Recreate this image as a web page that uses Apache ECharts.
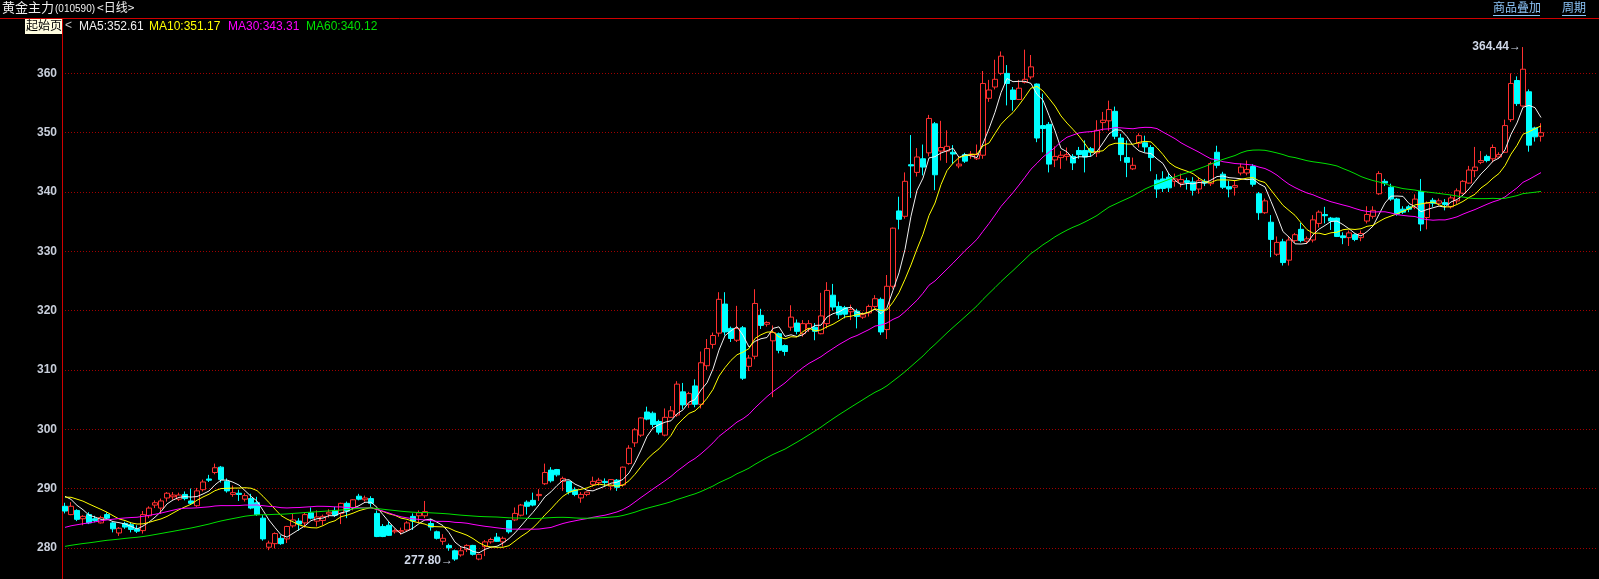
<!DOCTYPE html>
<html><head><meta charset="utf-8">
<script src="https://cdn.jsdelivr.net/npm/echarts@6/dist/echarts.min.js"></script>
<style>html,body{margin:0;padding:0;background:#000;overflow:hidden}#c{width:1599px;height:579px}</style>
</head><body><div id="c"></div>
<script>
// ---- data (daily candles, oldest first) ----
const opens = [287.0,285.6,286.3,284.9,285.6,284.9,284.2,285.6,284.2,282.5,284.1,283.9,283.2,282.9,285.4,287.2,286.7,288.4,288.6,288.2,289.0,287.9,287.1,289.8,291.6,292.7,293.6,291.2,289.0,289.2,288.2,288.3,287.6,285.0,280.1,280.7,281.6,281.5,283.7,284.5,284.2,285.9,284.5,284.6,285.7,286.3,285.8,287.5,286.8,288.7,288.1,288.3,285.8,283.6,283.8,282.7,282.7,283.0,285.3,285.4,285.4,284.1,282.7,281.1,280.4,279.5,278.8,279.7,280.4,278.1,280.2,281.0,281.8,281.0,284.6,284.7,285.5,287.7,288.0,288.8,290.8,293.1,293.2,291.2,291.2,289.8,288.4,289.0,290.7,291.0,291.2,290.4,291.4,290.6,294.2,297.7,299.0,302.9,302.7,301.3,299.0,302.0,302.4,306.3,304.2,307.3,304.2,310.7,314.3,316.2,321.1,317.0,315.0,317.1,310.6,312.3,319.2,317.7,314.9,316.1,314.1,317.2,317.9,316.1,317.0,317.2,316.1,317.8,322.6,320.7,320.5,319.8,319.9,318.9,319.6,320.7,321.9,316.8,324.1,336.8,335.9,344.6,343.3,345.6,346.6,351.5,346.9,346.9,346.7,344.4,346.3,346.2,345.6,346.2,355.8,357.7,360.0,360.0,357.2,355.6,358.5,359.4,358.2,351.2,351.4,345.4,345.8,346.0,346.0,347.0,347.0,347.3,346.6,351.7,352.0,353.6,349.1,345.8,343.9,348.2,348.3,347.5,342.0,342.2,342.5,341.8,341.5,341.9,341.7,340.5,341.8,341.4,346.7,343.0,340.9,340.8,343.2,343.2,344.3,339.7,336.5,334.9,329.5,331.6,328.5,331.8,333.7,331.7,331.9,334.7,336.2,335.6,335.6,332.6,332.3,332.8,332.3,335.1,335.9,339.7,341.8,340.8,338.8,337.1,337.5,337.4,340.1,335.7,338.6,338.1,338.2,337.5,338.5,339.8,341.5,343.6,345.0,346.0,345.6,345.9,346.7,352.2,358.8,354.5,356.9,350.8,349.4];
const closes = [286.2,287.0,284.8,285.3,284.2,284.6,285.1,285.0,283.2,283.3,283.5,283.1,282.8,285.6,286.7,287.6,287.9,289.2,288.9,288.9,288.3,287.5,289.6,291.1,291.4,293.5,291.5,289.6,289.3,289.0,288.8,286.7,285.6,281.5,280.8,282.4,280.7,283.6,284.7,284.0,285.6,285.0,285.2,285.3,286.0,285.5,287.5,286.2,288.1,288.2,288.4,287.5,281.9,281.9,282.1,282.9,282.9,284.2,284.5,285.9,286.1,283.5,281.6,281.6,280.0,278.1,279.5,280.4,278.9,278.9,281.0,281.4,281.1,281.6,282.7,285.8,287.2,287.0,287.2,289.0,292.7,291.3,292.3,291.7,289.4,289.0,289.0,289.4,291.2,291.4,291.0,291.5,290.2,293.6,296.8,299.9,301.9,301.7,300.8,299.5,302.0,303.1,307.6,304.1,306.0,304.2,311.2,313.6,315.8,321.9,316.4,315.3,317.0,308.6,312.0,321.2,317.5,318.0,316.3,313.3,313.1,318.9,316.5,317.8,317.8,316.5,319.1,323.4,320.6,319.3,319.4,320.2,319.0,319.3,320.7,322.0,316.4,324.1,333.9,335.4,341.8,344.4,345.9,344.2,352.4,342.9,347.5,347.7,346.4,344.7,345.2,346.4,346.3,358.3,357.2,359.0,362.9,358.3,355.6,357.5,359.0,361.1,349.1,350.7,344.7,346.0,346.2,346.3,344.9,346.3,345.9,346.7,350.4,352.1,353.9,349.4,346.3,345.0,344.5,349.5,347.6,345.8,340.5,340.6,340.7,342.2,342.1,341.6,340.3,341.9,341.5,344.8,344.5,340.8,340.5,341.1,344.2,343.8,341.3,336.5,338.5,332.0,331.5,328.1,331.9,332.8,331.8,332.1,335.3,336.6,336.0,335.1,332.5,332.3,333.1,332.0,333.0,336.2,336.9,343.1,341.5,338.8,336.3,336.6,337.1,338.8,334.6,338.1,338.1,338.5,337.9,339.0,340.2,341.8,343.7,344.2,345.3,345.3,347.5,346.3,351.2,358.3,354.9,360.7,347.9,349.3,350.0];
const lows = [285.8,285.5,284.5,283.8,284.0,284.3,284.1,284.8,282.6,282.0,283.2,282.6,282.5,282.4,285.0,286.7,285.7,287.8,288.1,287.9,288.0,287.3,286.9,289.5,291.1,292.4,291.0,289.3,288.6,287.9,287.8,286.5,285.4,281.2,279.6,279.9,280.5,280.8,283.4,282.9,283.4,284.8,283.6,283.8,285.1,285.2,284.0,285.0,286.3,288.0,287.8,286.9,281.8,281.8,282.0,282.4,282.2,282.8,283.0,284.2,285.0,282.9,281.4,280.5,279.5,277.8,278.5,279.3,278.7,277.9,278.6,280.7,281.0,280.2,282.4,284.5,285.3,285.6,287.0,287.9,290.6,291.0,292.0,289.6,289.0,288.7,287.6,288.7,290.3,290.5,290.4,289.7,289.6,290.3,294.0,297.0,298.7,301.5,300.3,299.1,298.8,301.9,302.1,303.4,303.6,303.7,303.5,310.0,313.6,315.6,315.8,314.7,314.7,308.3,309.8,311.8,316.9,317.3,305.4,312.8,312.4,316.6,316.0,315.6,316.4,315.0,316.0,317.0,320.0,318.6,318.7,318.4,317.0,318.6,319.0,320.4,315.9,315.2,323.7,333.7,335.5,339.0,342.6,342.8,346.0,340.3,345.3,344.9,344.7,344.0,344.9,345.6,345.4,345.6,355.2,357.3,359.7,354.6,353.7,355.5,358.3,359.0,348.4,346.7,343.3,344.2,343.9,345.3,343.7,345.6,343.3,346.0,345.9,350.3,350.3,348.9,345.2,342.5,343.7,347.5,346.7,343.5,339.0,340.0,340.0,340.9,340.8,340.4,339.4,339.7,341.0,341.0,344.0,340.5,339.1,339.4,342.8,342.8,340.9,335.3,336.3,329.0,329.2,327.6,327.6,331.4,331.5,331.4,331.5,334.0,334.7,333.6,332.4,331.2,330.9,331.7,331.7,334.7,335.5,339.5,341.0,338.5,336.0,336.3,336.6,337.1,333.4,333.7,337.5,337.7,336.9,337.2,338.0,339.6,341.4,342.5,344.7,345.0,345.0,345.8,346.6,351.8,354.5,354.4,346.8,348.5,348.5];
const highs = [287.6,287.7,286.5,285.5,286.0,285.4,285.4,286.0,284.4,283.5,284.4,284.3,283.8,286.2,287.0,288.0,288.3,289.4,289.4,289.3,289.5,290.0,290.1,291.5,292.3,294.2,293.8,291.7,290.5,289.8,289.2,289.1,288.6,285.5,281.2,282.6,282.1,283.7,285.7,285.0,286.0,286.8,286.3,285.6,286.5,286.9,287.6,287.8,288.2,289.1,288.8,288.7,286.3,284.0,284.4,283.3,283.4,284.5,285.8,286.3,287.9,284.9,282.9,282.3,280.7,279.7,280.1,280.6,280.5,279.0,281.3,281.7,282.5,281.9,284.7,286.8,287.4,288.0,289.3,289.9,294.2,293.6,293.3,292.0,291.3,290.2,289.4,289.5,292.0,291.8,291.7,291.6,291.6,293.7,297.3,300.2,302.0,303.8,303.0,301.6,303.5,303.9,308.1,307.8,306.3,308.4,313.1,315.2,316.3,323.1,323.1,317.3,320.8,317.4,312.5,323.6,320.3,318.2,317.5,316.3,314.3,320.9,318.5,318.4,318.4,317.9,323.0,324.8,324.5,321.5,320.8,321.0,320.3,319.7,321.0,322.6,322.2,326.0,334.0,339.2,343.3,349.6,347.4,348.0,353.0,351.8,352.0,350.4,347.9,346.0,346.6,346.9,348.0,360.4,358.9,362.3,363.7,361.4,357.7,358.9,364.0,363.1,358.3,356.6,351.8,347.7,346.9,347.5,346.4,347.6,348.7,347.6,352.1,353.5,355.4,354.4,349.8,348.7,345.8,349.9,349.5,347.9,343.0,343.5,343.2,343.1,343.1,342.4,342.5,342.5,342.2,345.1,347.8,343.4,341.9,341.9,344.8,345.3,344.7,340.0,338.9,336.1,332.5,332.1,332.4,333.1,334.8,332.5,336.1,336.9,337.5,335.8,335.7,333.2,333.5,333.0,333.5,337.6,337.6,343.5,342.2,341.4,339.0,337.6,337.8,339.6,342.2,338.4,339.0,338.9,338.8,339.4,340.6,342.0,344.4,347.6,346.9,346.3,348.0,346.7,352.2,360.0,359.5,364.44,357.3,351.0,351.6];
// closes of the 59 sessions before the first visible candle (estimated from where the MA lines start)
const priorCloses = [276.2,275.8,276.5,277.1,276.4,275.9,276.8,277.5,277.0,276.3,276.9,277.6,278.1,277.4,276.8,277.2,277.9,278.3,277.6,277.0,276.5,276.9,277.4,277.8,277.1,276.6,277.0,277.5,277.3,276.9,279.0,279.5,280.2,279.8,279.3,280.0,280.4,279.6,279.9,280.6,281.0,281.4,280.9,281.7,282.2,281.8,282.0,281.5,282.1,285.0,287.2,288.0,288.6,289.0,289.2,289.6,289.8,289.0,288.8];
const yTicks = [280,290,300,310,320,330,340,350,360];
const maPeriods = [5,10,30,60];
const maColors = ['#F0F0F0','#FFFF00','#FF00FF','#00E000'];
const maLegend = ['MA5:352.61','MA10:351.17','MA30:343.31','MA60:340.12'];
const highMark = {index:243, value:364.44};
const lowMark = {index:65, value:277.80};

const days = closes.map((_, i) => String(i));
const candles = closes.map((c, i) => [opens[i], c, lows[i], highs[i]]);
const allCloses = priorCloses.concat(closes);
function movingAvg(n) {
  const off = priorCloses.length;
  return closes.map((_, i) => {
    let s = 0;
    for (let k = 0; k < n; k++) s += allCloses[off + i - k];
    return +(s / n).toFixed(3);
  });
}

const chart = echarts.init(document.getElementById('c'), null, {renderer: 'canvas'});
const labelFont = 'Arial, "Liberation Sans", sans-serif';
const cjkFont = '"Noto Sans CJK SC", sans-serif';
const maX = [79, 149, 228, 306];
const emptySlots = 9; // free room right of the last candle

const graphics = [
  {type:'line', shape:{x1:0, y1:18.5, x2:1599, y2:18.5}, style:{stroke:'#D00000', lineWidth:1}, silent:true},
  {type:'text', left:2, top:1, style:{text:'黄金主力', fill:'#EEEEEE', font:'13px ' + cjkFont}},
  {type:'text', left:55, top:4, style:{text:'(010590)', fill:'#EEEEEE', font:'10px ' + labelFont}},
  {type:'text', left:97, top:1, style:{text:'<日线>', fill:'#EEEEEE', font:'12px ' + cjkFont}},
  {type:'rect', shape:{x:25, y:19, width:38, height:15}, style:{fill:'#FFFDE0'}, silent:true},
  {type:'text', left:26, top:19, style:{text:'起始页', fill:'#000', font:'12px ' + cjkFont}},
  {type:'text', left:65, top:20, style:{text:'<', fill:'#C8C8C8', font:'12px ' + labelFont}},
  {type:'text', left:1493, top:1, style:{text:'商品叠加', fill:'#8CC4F8', font:'12px ' + cjkFont}},
  {type:'line', shape:{x1:1493, y1:15.5, x2:1540, y2:15.5}, style:{stroke:'#8CC4F8', lineWidth:1}},
  {type:'text', left:1562, top:1, style:{text:'周期', fill:'#8CC4F8', font:'12px ' + cjkFont}},
  {type:'line', shape:{x1:1562, y1:15.5, x2:1586, y2:15.5}, style:{stroke:'#8CC4F8', lineWidth:1}}
];
maLegend.forEach((t, k) => graphics.push({type:'text', left:maX[k], top:21, style:{text:t, fill:maColors[k], font:'12px ' + labelFont}}));

const markLabel = {show:true, position:'left', distance:1, color:'#D0D8E8', fontSize:12, fontWeight:'bold', fontFamily:labelFont};

const series = [{
  type:'candlestick',
  data:candles,
  barWidth:5,
  itemStyle:{color:'#000000', color0:'#00FFFF', borderColor:'#FF3030', borderColor0:'#00FFFF', borderWidth:1},
  markPoint:{
    symbol:'circle', symbolSize:2, itemStyle:{color:'rgba(0,0,0,0)'}, silent:true, animation:false,
    data:[
      {coord:[highMark.index, highMark.value], label:Object.assign({}, markLabel, {formatter:highMark.value.toFixed(2) + '→'})},
      {coord:[lowMark.index, lowMark.value], label:Object.assign({}, markLabel, {formatter:lowMark.value.toFixed(2) + '→'})}
    ]
  }
}];
maPeriods.forEach((n, k) => series.push({
  type:'line', data:movingAvg(n), showSymbol:false, symbol:'none', silent:true,
  lineStyle:{color:maColors[k], width:1}, z:3
}));

chart.setOption({
  backgroundColor:'#000000',
  animation:false,
  grid:{left:62, right:1, top:19, bottom:0, containLabel:false},
  xAxis:{type:'category', data:days, boundaryGap:true, show:false, max:days.length - 1 + emptySlots},
  yAxis:{
    type:'value', min:274.74, max:369.17, position:'left',
    axisLine:{show:true, lineStyle:{color:'#D00000', width:1}},
    axisTick:{show:false, customValues:yTicks},
    axisLabel:{customValues:yTicks, color:'#C8CEDA', fontSize:12, fontWeight:'bold', fontFamily:labelFont, margin:5},
    splitLine:{show:true, lineStyle:{color:'#A00000', type:[1,2], width:1}}
  },
  graphic:graphics,
  series:series
});
</script>
</body></html>
